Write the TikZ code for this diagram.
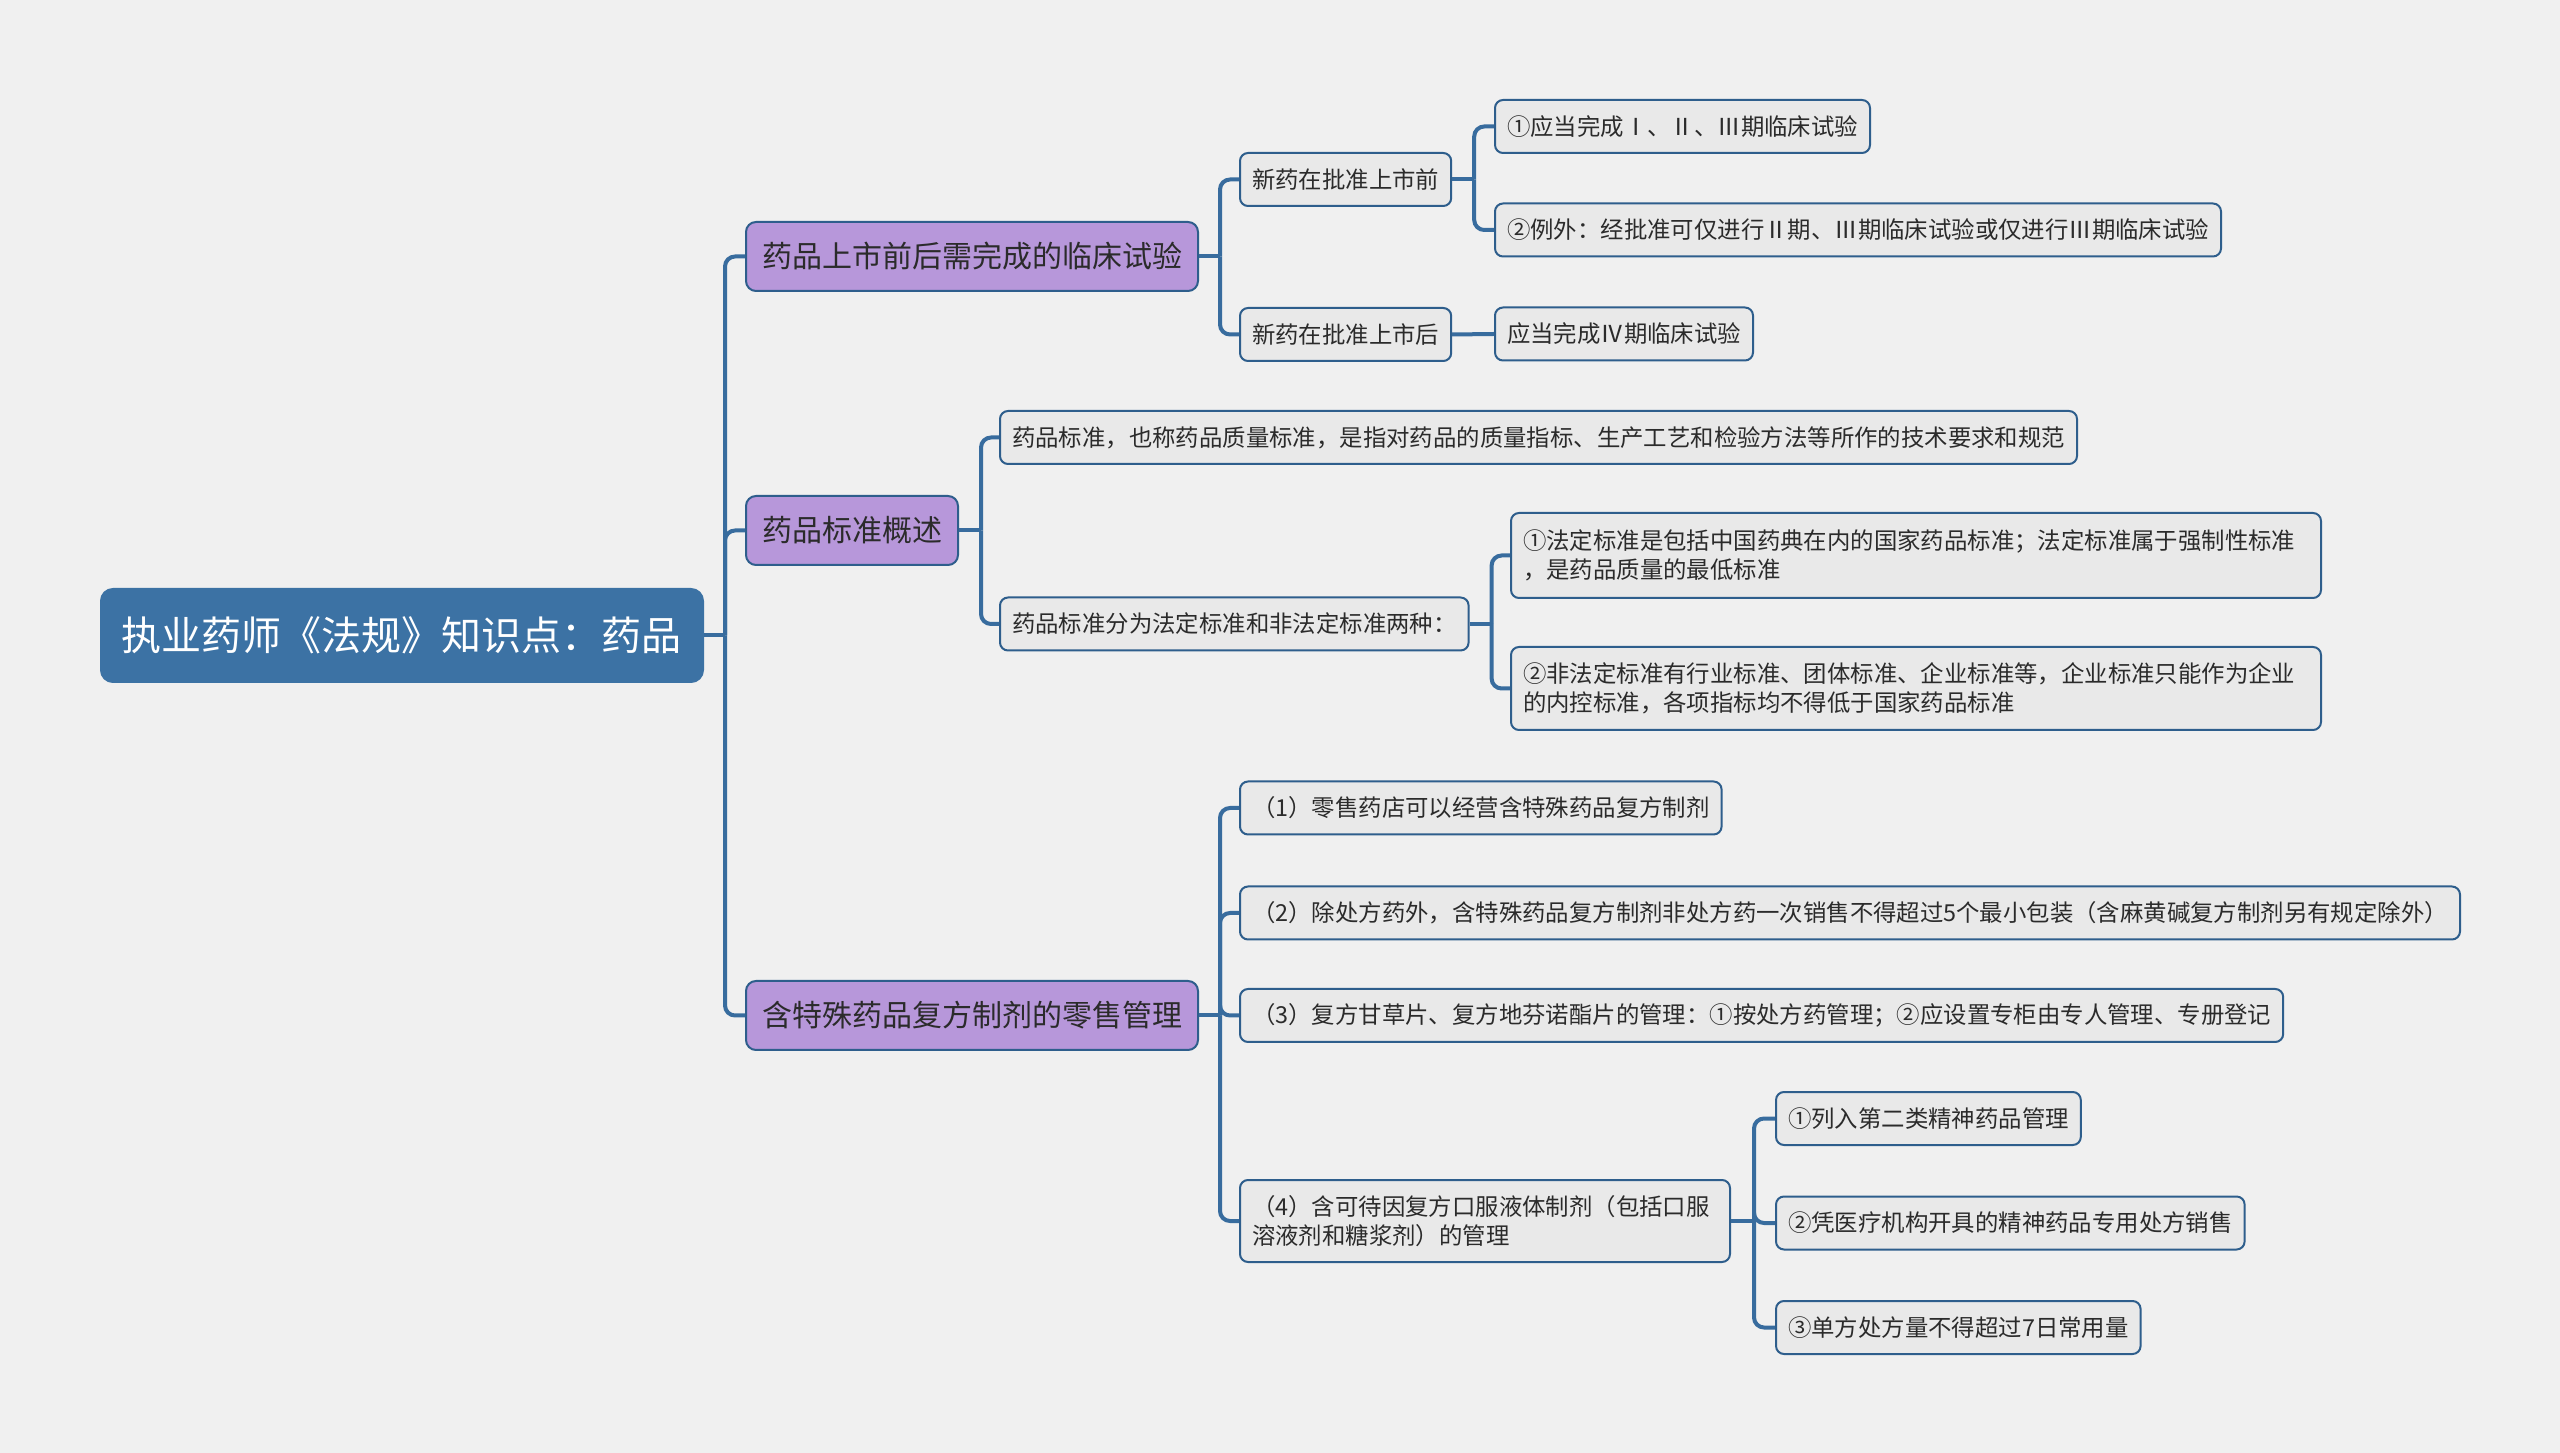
\documentclass[tikz,border=0pt]{standalone}
\usepackage{fontspec}
\setmainfont{Noto Sans CJK SC}
\usepackage{xcolor}
\usepackage{tikz}
\usetikzlibrary{calc}

\definecolor{bgcol}{HTML}{F0F0F0}
\definecolor{rootblue}{HTML}{3C72A4}
\definecolor{edgeblue}{HTML}{2E5E8C}
\definecolor{linkblue}{HTML}{386C9E}
\definecolor{topicpurple}{HTML}{B797DA}
\definecolor{leafgray}{HTML}{E9E9E9}
\definecolor{inkcol}{HTML}{2B2B2B}

\begin{document}
\begin{tikzpicture}[x=0.25pt, y=-0.25pt,
	rootbox/.style={anchor=west, fill=rootblue, draw=rootblue, line width=0.5pt, rounded corners=3pt, text=white, font=\fontsize{10pt}{12pt}\selectfont, minimum height=23.25pt, inner xsep=5.25pt},
	topicbox/.style={anchor=west, fill=topicpurple, draw=edgeblue, line width=0.5pt, rounded corners=2.5pt, text=inkcol, font=\fontsize{7.5pt}{9pt}\selectfont, minimum height=17.25pt, inner xsep=4pt},
	leafbox/.style={anchor=west, fill=leafgray, draw=edgeblue, line width=0.5pt, rounded corners=2pt, text=inkcol, font=\fontsize{5.85pt}{7.35pt}\selectfont, minimum height=13.25pt, inner xsep=3pt},
	link/.style={draw=linkblue, line width=1pt, rounded corners=2.5pt}]
	\fill[bgcol] (0,0) rectangle (2560,1453);
	
	\node[rootbox] (root) at (100,635.5) {执业药师《法规》知识点：药品};
	
	\node[topicbox] (trial) at (745,256.5) {药品上市前后需完成的临床试验};
	\node[topicbox] (std) at (745,530.5) {药品标准概述};
	\node[topicbox] (retail) at (745,1015.5) {含特殊药品复方制剂的零售管理};
	
	% clinical trials
	\node[leafbox] (before) at (1239,179.5) {新药在批准上市前};
	\node[leafbox] (after) at (1239,334.5) {新药在批准上市后};
	\node[leafbox] (before1) at (1494,126.5) {①应当完成Ⅰ、Ⅱ、Ⅲ期临床试验};
	\node[leafbox] (before2) at (1494,230) {②例外：经批准可仅进行Ⅱ期、Ⅲ期临床试验或仅进行Ⅲ期临床试验};
	\node[leafbox] (after1) at (1494,334) {应当完成Ⅳ期临床试验};
	
	% standards
	\node[leafbox] (stddef) at (999,437.5) {药品标准，也称药品质量标准，是指对药品的质量指标、生产工艺和检验方法等所作的技术要求和规范};
	\node[leafbox] (stdkind) at (999,624) {药品标准分为法定标准和非法定标准两种：};
	\node[leafbox, text width=196.5pt, align=left, minimum height=21.25pt] (legal) at (1510,555.5) {①法定标准是包括中国药典在内的国家药品标准；法定标准属于强制性标准\\，是药品质量的最低标准};
	\node[leafbox, text width=196.5pt, align=left, minimum height=20.75pt] (nonlegal) at (1510,688.5) {②非法定标准有行业标准、团体标准、企业标准等，企业标准只能作为企业\\的内控标准，各项指标均不得低于国家药品标准};
	
	% retail
	\node[leafbox] (rule1) at (1239,808) {（1）零售药店可以经营含特殊药品复方制剂};
	\node[leafbox] (rule2) at (1239,913) {（2）除处方药外，含特殊药品复方制剂非处方药一次销售不得超过5个最小包装（含麻黄碱复方制剂另有规定除外）};
	\node[leafbox] (rule3) at (1239,1015.5) {（3）复方甘草片、复方地芬诺酯片的管理：①按处方药管理；②应设置专柜由专人管理、专册登记};
	\node[leafbox, text width=116.5pt, align=left, minimum height=20.5pt] (rule4) at (1239,1221) {（4）含可待因复方口服液体制剂（包括口服\\溶液剂和糖浆剂）的管理};
	\node[leafbox] (rule41) at (1775,1118.5) {①列入第二类精神药品管理};
	\node[leafbox] (rule42) at (1775,1223) {②凭医疗机构开具的精神药品专用处方销售};
	\node[leafbox] (rule43) at (1775,1327.5) {③单方处方量不得超过7日常用量};
	
	\coordinate (rootbus) at ($(root.east)+(21,0)$);
	\coordinate (trialbus) at ($(trial.east)+(21,0)$);
	\coordinate (beforebus) at ($(before.east)+(22,0)$);
	\coordinate (stdbus) at ($(std.east)+(22,0)$);
	\coordinate (kindbus) at ($(stdkind.east)+(22,0)$);
	\coordinate (retailbus) at ($(retail.east)+(21,0)$);
	\coordinate (rulebus) at ($(rule4.east)+(23,0)$);
	
	\draw[link] (root.east) -- (rootbus);
	\draw[link] (rootbus) |- (trial.west);
	\draw[link] (rootbus) |- (std.west);
	\draw[link] (rootbus) |- (retail.west);
	
	\draw[link] (trial.east) -- (trialbus);
	\draw[link] (trialbus) |- (before.west);
	\draw[link] (trialbus) |- (after.west);
	\draw[link] (before.east) -- (beforebus);
	\draw[link] (beforebus) |- (before1.west);
	\draw[link] (beforebus) |- (before2.west);
	\draw[link] (after.east) -- (after1.west);
	
	\draw[link] (std.east) -- (stdbus);
	\draw[link] (stdbus) |- (stddef.west);
	\draw[link] (stdbus) |- (stdkind.west);
	\draw[link] (stdkind.east) -- (kindbus);
	\draw[link] (kindbus) |- (legal.west);
	\draw[link] (kindbus) |- (nonlegal.west);
	
	\draw[link] (retail.east) -- (retailbus);
	\draw[link] (retailbus) |- (rule1.west);
	\draw[link] (retailbus) |- (rule2.west);
	\draw[link] (retailbus) |- (rule3.west);
	\draw[link] (retailbus) |- (rule4.west);
	\draw[link] (rule4.east) -- (rulebus);
	\draw[link] (rulebus) |- (rule41.west);
	\draw[link] (rulebus) |- (rule42.west);
	\draw[link] (rulebus) |- (rule43.west);
\end{tikzpicture}
\end{document}
